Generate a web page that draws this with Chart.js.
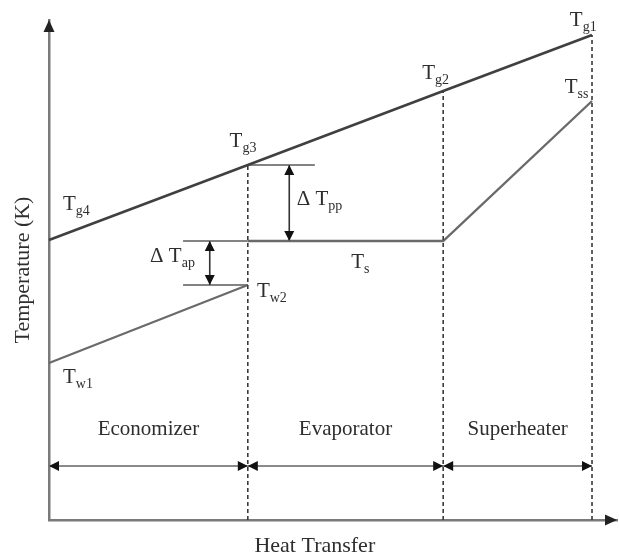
<!DOCTYPE html>
<html>
<head>
<meta charset="utf-8">
<script src="https://cdn.jsdelivr.net/npm/chart.js@4"></script>
<style>
  html, body { margin: 0; padding: 0; background: #ffffff; }
  #wrap { width: 619px; height: 560px; }
</style>
</head>
<body>
<div id="wrap"><canvas id="c" width="619" height="560"></canvas></div>
<script>
// ---- data (arbitrary heat-transfer / temperature units) ----
const sections   = ['Economizer', 'Evaporator', 'Superheater'];
const boundaryQ  = [0, 35, 69.4, 95.6];        // section boundaries on the heat-transfer axis
const gasT       = [56, 71, 85.8, 97];         // Tg4, Tg3, Tg2, Tg1
const waterQ     = [0, 35];
const waterT     = [31.4, 47];                 // Tw1, Tw2
const steamQ     = [35, 69.4, 95.6];
const steamT     = [55.8, 55.8, 83.8];         // Ts, Ts, Tss
const pinchQ     = 42.3;                       // position of the ΔTpp arrow
const approachQ  = 28.3;                       // position of the ΔTap arrow
const bracketQ   = [23.6, 46.8];               // left end of ΔTap guides, right end of ΔTpp guide
const regionT    = 10.8;                       // level of the section arrows
const sectionLabelT = 17;
const xTitle = 'Heat Transfer';
const yTitle = 'Temperature (K)';

// point labels: [main, subscript, q, T]  (left / baseline anchor)
const pointLabels = [
  ['T', 'g4', 2.46, 62],
  ['T', 'g3', 31.8, 74.6],
  ['T', 'g2', 65.7, 88.2],
  ['T', 'g1', 91.7, 98.8],
  ['T', 'ss', 90.8, 85.4],
  ['T', 's', 53.2, 50.4],
  ['T', 'w2', 36.6, 44.6],
  ['T', 'w1', 2.46, 27.4],
  ['\u0394 T', 'ap', 17.8, 51.6],
  ['\u0394 T', 'pp', 43.6, 63]
];

// ---- build datasets ----
const FONT = '"Liberation Serif", "Times New Roman", serif';
const seg = (pts, color, width, extra) => Object.assign({
  data: pts, borderColor: color, borderWidth: width, pointRadius: 0,
  fill: false, tension: 0, showLine: true, clip: false
}, extra || {});

const datasets = [];
// dashed boundary lines from the axis up to the gas line
for (let i = 1; i < boundaryQ.length; i++) {
  datasets.push(seg([{x: boundaryQ[i], y: 0}, {x: boundaryQ[i], y: gasT[i]}], '#3a3a3a', 1.6, {borderDash: [4, 3]}));
}
// gas line
datasets.push(seg(boundaryQ.map((q, i) => ({x: q, y: gasT[i]})), '#404040', 2.6));
// water (economizer)
datasets.push(seg(waterQ.map((q, i) => ({x: q, y: waterT[i]})), '#6a6a6a', 2.2));
// steam (evaporator + superheater)
datasets.push(seg(steamQ.map((q, i) => ({x: q, y: steamT[i]})), '#6a6a6a', 2.4));
// guide lines for the temperature differences
datasets.push(seg([{x: boundaryQ[1], y: gasT[1]}, {x: bracketQ[1], y: gasT[1]}], '#5a5a5a', 1.6));
datasets.push(seg([{x: bracketQ[0], y: steamT[0]}, {x: boundaryQ[1], y: steamT[0]}], '#5a5a5a', 1.6));
datasets.push(seg([{x: bracketQ[0], y: waterT[1]}, {x: boundaryQ[1], y: waterT[1]}], '#5a5a5a', 1.6));
// ΔT double arrows
datasets.push(seg([{x: pinchQ, y: gasT[1]}, {x: pinchQ, y: steamT[0]}], '#333333', 1.6, {arrows: 'both'}));
datasets.push(seg([{x: approachQ, y: steamT[0]}, {x: approachQ, y: waterT[1]}], '#333333', 1.6, {arrows: 'both'}));
// section arrows
for (let i = 0; i < sections.length; i++) {
  datasets.push(seg([{x: boundaryQ[i], y: regionT}, {x: boundaryQ[i + 1], y: regionT}], '#8a8a8a', 2, {arrows: 'both'}));
}

// ---- plugin: arrowheads, labels, axis titles ----
function head(ctx, tx, ty, fx, fy, len, half) {
  const a = Math.atan2(ty - fy, tx - fx);
  ctx.beginPath();
  ctx.moveTo(tx, ty);
  ctx.lineTo(tx - len * Math.cos(a) + half * Math.sin(a), ty - len * Math.sin(a) - half * Math.cos(a));
  ctx.lineTo(tx - len * Math.cos(a) - half * Math.sin(a), ty - len * Math.sin(a) + half * Math.cos(a));
  ctx.closePath();
  ctx.fill();
}

const decor = {
  id: 'decor',
  afterDatasetsDraw(chart) {
    const ctx = chart.ctx;
    const xs = chart.scales.x, ys = chart.scales.y;
    const area = chart.chartArea;
    ctx.save();
    ctx.fillStyle = '#111111';
    chart.data.datasets.forEach((ds, i) => {
      if (!ds.arrows) return;
      const pts = chart.getDatasetMeta(i).data;
      const p0 = pts[0], p1 = pts[pts.length - 1];
      head(ctx, p1.x, p1.y, p0.x, p0.y, 10, 5);
      head(ctx, p0.x, p0.y, p1.x, p1.y, 10, 5);
    });
    // axis arrowheads
    ctx.fillStyle = '#222222';
    head(ctx, area.left, area.top, area.left, area.top + 20, 12, 5.5);
    head(ctx, area.right, area.bottom, area.right - 20, area.bottom, 12, 5.5);

    ctx.fillStyle = '#2e2e2e';
    ctx.textBaseline = 'alphabetic';
    // point labels with subscripts
    pointLabels.forEach(([main, sub, q, t]) => {
      const px = xs.getPixelForValue(q), py = ys.getPixelForValue(t);
      ctx.font = '21px ' + FONT;
      ctx.textAlign = 'left';
      ctx.fillText(main, px, py);
      const w = ctx.measureText(main).width;
      ctx.font = '14px ' + FONT;
      ctx.fillText(sub, px + w, py + 5);
    });
    // section labels
    ctx.font = '21px ' + FONT;
    ctx.textAlign = 'center';
    sections.forEach((s, i) => {
      const px = xs.getPixelForValue((boundaryQ[i] + boundaryQ[i + 1]) / 2);
      ctx.fillText(s, px, ys.getPixelForValue(sectionLabelT));
    });
    // axis titles
    ctx.font = '22px ' + FONT;
    ctx.textBaseline = 'middle';
    ctx.fillText(xTitle, xs.getPixelForValue(46.8), area.bottom + 26);
    ctx.save();
    ctx.translate(area.left - 26, (area.top + area.bottom) / 2);
    ctx.rotate(-Math.PI / 2);
    ctx.fillText(yTitle, 0, 0);
    ctx.restore();
    ctx.restore();
  }
};

new Chart(document.getElementById('c'), {
  type: 'scatter',
  data: { datasets },
  options: {
    responsive: false,
    animation: false,
    devicePixelRatio: 1,
    layout: { padding: { left: 41, right: 2, top: 20, bottom: 32 } },
    plugins: { legend: { display: false }, tooltip: { enabled: false } },
    scales: {
      x: {
        type: 'linear', min: 0, max: 100,
        grid: { display: false },
        ticks: { display: false },
        border: { display: true, color: '#7a7a7a', width: 2.5 }
      },
      y: {
        type: 'linear', min: 0, max: 100,
        grid: { display: false },
        ticks: { display: false },
        border: { display: true, color: '#7a7a7a', width: 2.5 }
      }
    }
  },
  plugins: [decor]
});
</script>
</body>
</html>
